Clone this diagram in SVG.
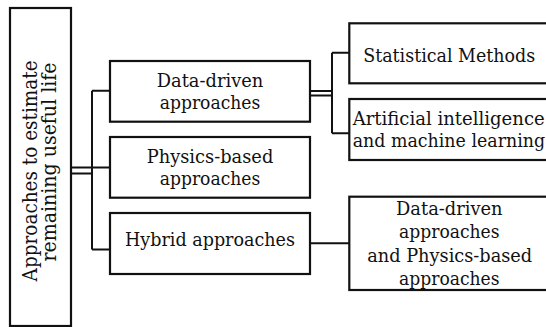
<svg xmlns="http://www.w3.org/2000/svg" width="546" height="327" viewBox="0 0 546 327">
<style>
.box{fill:#fff;stroke:#111;stroke-width:2.2}
.ln{fill:none;stroke:#111;stroke-width:2}
.t{font-family:"DejaVu Serif","Liberation Serif",serif;font-size:19px;fill:#111;text-anchor:middle}
.v{font-size:19.5px}
</style>
<rect width="546" height="327" fill="#fff"/>
<g id="connectors">
<path class="ln" d="M71,167.5H110M71,173.5H92M92,90.7V249.5M92,90.7H110M92,249.5H110"/>
<path class="ln" d="M310,91H332M310,95.5H332M332,52.7V133.3M332,52.7H349M332,133.3H349"/>
<path class="ln" d="M310,243.3H349"/>
</g>
<g id="root">
<rect class="box" x="10" y="8" width="61" height="318"/>
<text class="t v" transform="translate(36.5,170.9) rotate(-90)" textLength="221" lengthAdjust="spacingAndGlyphs">Approaches to estimate</text>
<text class="t v" transform="translate(55.5,162) rotate(-90)" textLength="199" lengthAdjust="spacingAndGlyphs">remaining useful life</text>
</g>
<g id="data-driven">
<rect class="box" x="110" y="61" width="200" height="60.7"/>
<text class="t" x="210" y="87.3" textLength="106.5" lengthAdjust="spacingAndGlyphs">Data-driven</text>
<text class="t" x="210" y="109.3" textLength="100.5" lengthAdjust="spacingAndGlyphs">approaches</text>
</g>
<g id="physics-based">
<rect class="box" x="110" y="137" width="200" height="60.7"/>
<text class="t" x="210" y="163" textLength="126.6" lengthAdjust="spacingAndGlyphs">Physics-based</text>
<text class="t" x="210" y="185" textLength="100.5" lengthAdjust="spacingAndGlyphs">approaches</text>
</g>
<g id="hybrid">
<rect class="box" x="110" y="213" width="200" height="61"/>
<text class="t" x="210" y="245.5" textLength="170" lengthAdjust="spacingAndGlyphs">Hybrid approaches</text>
</g>
<g id="statistical">
<rect class="box" x="349.3" y="23.3" width="200" height="60"/>
<text class="t" x="449.2" y="61.5" textLength="172" lengthAdjust="spacingAndGlyphs">Statistical Methods</text>
</g>
<g id="ai-ml">
<rect class="box" x="349.3" y="99" width="200" height="61"/>
<text class="t" x="448.7" y="125" textLength="192" lengthAdjust="spacingAndGlyphs">Artificial intelligence</text>
<text class="t" x="448.9" y="146.7" textLength="192.4" lengthAdjust="spacingAndGlyphs">and machine learning</text>
</g>
<g id="hybrid-detail">
<rect class="box" x="349.3" y="196.7" width="200" height="93.3"/>
<text class="t" x="449.3" y="214.5" textLength="106.5" lengthAdjust="spacingAndGlyphs">Data-driven</text>
<text class="t" x="449.3" y="238" textLength="100.5" lengthAdjust="spacingAndGlyphs">approaches</text>
<text class="t" x="449.7" y="261.5" textLength="165" lengthAdjust="spacingAndGlyphs">and Physics-based</text>
<text class="t" x="449.3" y="285" textLength="100.5" lengthAdjust="spacingAndGlyphs">approaches</text>
</g>
</svg>
